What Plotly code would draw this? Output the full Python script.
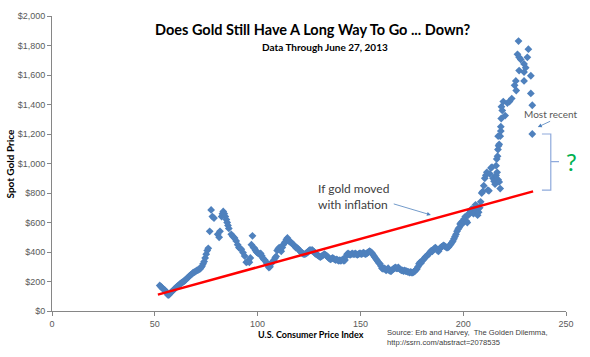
import plotly.graph_objects as go

# Gold price vs CPI
cpi = [52.4, 53.0, 53.5, 54.0, 54.5, 55.0, 55.5, 56.0, 56.5, 57.0, 57.5, 58.0, 58.5, 59.0, 59.5,
       60.0, 60.5, 61.0, 61.5, 62.0, 62.5, 63.0, 63.5, 64.0, 64.5, 65.0, 65.5, 66.0, 66.5, 67.0,
       67.5, 68.0, 68.5, 69.0, 69.5, 70.0, 70.5, 71.0, 71.5, 72.0, 72.5, 73.0, 73.5, 74.0, 74.5,
       75.0, 75.5, 76.0, 76.7, 77.4, 78.0, 78.8, 80.6, 81.3, 81.7, 82.5, 82.9, 83.3, 83.8, 84.3,
       84.8, 85.2, 85.6, 86.0, 87.2, 88.0, 88.8, 89.6, 90.3, 90.9, 91.5, 92.1, 92.9, 93.7, 94.5,
       95.0, 95.5, 96.0, 96.5, 97.0, 97.5, 98.0, 98.5, 99.0, 99.5, 100.0, 100.5, 101.0, 101.5,
       102.0, 102.5, 103.0, 103.5, 104.0, 104.5, 105.0, 105.5, 106.0, 106.5, 107.0, 107.5, 108.0,
       108.5, 109.0, 109.5, 110.0, 110.5, 111.0, 111.5, 112.0, 112.5, 113.0, 113.5, 114.0, 114.5,
       115.0, 115.5, 116.0, 116.5, 117.0, 117.5, 118.0, 118.5, 119.0, 119.5, 120.0, 120.5, 121.0,
       121.5, 122.0, 122.5, 123.0, 123.5, 124.0, 124.5, 125.0, 125.5, 126.0, 126.5, 127.0, 127.5,
       128.0, 128.5, 129.0, 129.5, 130.0, 130.5, 131.0, 131.5, 132.0, 132.5, 133.0, 133.5, 134.0,
       134.5, 135.0, 135.5, 136.0, 136.5, 137.0, 137.5, 138.0, 138.5, 139.0, 139.5, 140.0, 140.5,
       141.0, 141.5, 142.0, 142.5, 143.0, 143.5, 144.0, 144.5, 145.0, 145.5, 146.0, 146.5, 147.0,
       147.5, 148.0, 148.5, 149.0, 149.5, 150.0, 150.5, 151.0, 151.5, 152.0, 152.5, 153.0, 153.5,
       154.0, 154.5, 155.0, 155.5, 156.0, 156.5, 157.0, 157.5, 158.0, 158.5, 159.0, 159.5, 160.0,
       160.5, 161.0, 161.5, 162.0, 162.5, 163.0, 163.5, 164.0, 164.5, 165.0, 165.5, 166.0, 166.5,
       167.0, 167.5, 168.0, 168.5, 169.0, 169.5, 170.0, 170.5, 171.0, 171.5, 172.0, 172.5, 173.0,
       173.5, 174.0, 174.5, 175.0, 175.5, 176.0, 176.5, 177.0, 177.5, 178.0, 178.5, 179.0, 179.5,
       180.0, 180.5, 181.0, 181.5, 182.0, 182.5, 183.0, 183.5, 184.0, 184.5, 185.0, 185.5, 186.0,
       186.5, 187.0, 187.5, 188.0, 188.5, 189.0, 189.5, 190.0, 190.5, 191.0, 191.5, 192.0, 192.5,
       193.0, 193.5, 194.0, 194.5, 195.0, 195.5, 196.0, 196.5, 197.0, 197.5, 198.0, 198.5, 199.0,
       199.5, 200.0, 200.5, 201.0, 201.5, 202.0, 202.5, 203.0, 203.5, 204.0, 204.5, 205.0, 205.5,
       206.0, 206.5, 207.0, 207.5, 208.0, 208.5, 209.0, 209.5, 210.0, 210.5, 211.0, 211.5, 212.0,
       212.5, 213.0, 213.5, 214.0, 214.5, 215.0, 215.5, 216.0, 216.5, 217.0, 217.5, 218.0, 216.0,
       216.3, 216.7, 216.9, 217.2, 217.5, 217.0, 218.0, 218.3, 218.3, 218.5, 219.0, 218.6, 219.5,
       220.4, 221.5, 222.5, 223.6, 225.0, 225.6, 225.8, 226.4, 227.2, 226.9, 228.0, 227.2, 229.6,
       229.6, 229.6, 230.4, 231.2, 231.7, 232.9, 232.9, 233.6, 233.6]
gold = [173, 165, 158, 150, 145, 140, 128, 118, 107, 112, 120, 128, 135, 140, 148,
        155, 162, 168, 172, 180, 185, 192, 195, 200, 205, 212, 220, 225, 232, 240,
        245, 250, 258, 262, 265, 270, 275, 278, 282, 285, 295, 305, 320, 335, 360,
        385, 410, 425, 540, 685, 640, 630, 520, 500, 540, 640, 660, 675, 660, 640,
        620, 600, 580, 560, 520, 505, 495, 475, 450, 430, 425, 418, 396, 373, 330,
        335, 340, 330, 360, 450, 510, 430, 425, 410, 400, 395, 390, 385, 390,
        375, 360, 350, 345, 335, 320, 310, 295, 300, 320, 330, 335, 345,
        360, 370, 410, 420, 430, 415, 405, 430, 450, 460, 470, 485, 495,
        480, 470, 470, 460, 455, 450, 440, 430, 430, 425, 415, 410, 400,
        395, 390, 385, 385, 390, 395, 400, 410, 415, 410, 415, 405, 400,
        390, 385, 380, 375, 370, 365, 370, 375, 380, 385, 380, 375, 370,
        360, 355, 350, 355, 360, 355, 350, 345, 350, 345, 340, 345, 340,
        345, 350, 340, 345, 370, 385, 390, 385, 380, 385, 390, 385, 385,
        390, 385, 380, 385, 390, 390, 385, 390, 395, 390, 385, 390, 395,
        400, 405, 400, 395, 385, 375, 365, 355, 345, 335, 325, 320, 305,
        290, 285, 290, 285, 275, 280, 290, 275, 270, 270, 280, 285, 290,
        295, 290, 290, 295, 285, 280, 275, 275, 270, 275, 270, 270, 265,
        265, 260, 265, 260, 260, 265, 270, 280, 285, 300, 320, 330, 325,
        340, 345, 355, 365, 370, 375, 385, 390, 400, 410, 405, 415, 425,
        430, 420, 410, 405, 420, 430, 435, 440, 445, 440, 435, 430, 430,
        435, 445, 455, 465, 475, 490, 505, 520, 540, 555, 565, 590, 600,
        590, 610, 625, 640, 610, 600, 650, 665, 680, 690, 670, 660, 700,
        720, 680, 650, 670, 700, 740, 800, 810, 850, 900, 920, 940, 820,
        815, 930, 970, 975, 900, 880, 860, 920, 940, 890, 875, 830, 985,
        1030, 1050, 1095, 1120, 1130, 1185, 1185, 1220, 1250, 1305, 1360, 1385, 1420,
        1325, 1410, 1420, 1440, 1530, 1560, 1495, 1740, 1720, 1830, 1705, 1630, 1675,
        1620, 1560, 1650, 1720, 1775, 1595, 1475, 1395, 1200]

# "If gold moved with inflation" line endpoints
infl_cpi = [51.5, 234.0]
infl_gold = [111, 811]

x_ticks = [0, 50, 100, 150, 200, 250]
y_ticks = [0, 200, 400, 600, 800, 1000, 1200, 1400, 1600, 1800, 2000]
y_tick_labels = ["$0", "$200", "$400", "$600", "$800", "$1,000", "$1,200", "$1,400",
                 "$1,600", "$1,800", "$2,000"]

fig = go.Figure()
fig.add_trace(go.Scatter(x=cpi, y=gold, mode="markers",
                         marker=dict(symbol="diamond", size=6, color="#4f81bd", line=dict(width=0)),
                         showlegend=False, cliponaxis=False))
fig.add_trace(go.Scatter(x=infl_cpi, y=infl_gold, mode="lines",
                         line=dict(color="#ff0000", width=2.5), showlegend=False))

tick_font = dict(family="Liberation Sans", size=9, color="#595959")
fig.update_xaxes(range=[0, 250], tickvals=x_ticks, showgrid=False, zeroline=False,
                 showline=True, linecolor="#868686", linewidth=1,
                 ticks="outside", ticklen=4, tickcolor="#868686", tickfont=tick_font)
fig.update_yaxes(range=[0, 2000], tickvals=y_ticks, ticktext=y_tick_labels,
                 showgrid=False, zeroline=False,
                 showline=True, linecolor="#868686", linewidth=1,
                 ticks="outside", ticklen=4, tickcolor="#868686", tickfont=tick_font)

# plot area in window pixels: x 52..566, y 11..311
def px(xp):
    return (xp - 52) / 514

def py(yp):
    return (311 - yp) / 300

def note(text, xp, yp, size, color="#000000", family="Lato", **kw):
    d = dict(text=text, xref="paper", yref="paper", x=px(xp), y=py(yp),
             xanchor="center", yanchor="middle", showarrow=False,
             font=dict(family=family, size=size, color=color))
    d.update(kw)
    return d

ann = []
ann.append(note("<b>Does Gold Still Have A Long Way To Go ... Down?</b>", 312, 25, 14.5))
ann.append(note("<b>Data Through June 27, 2013</b>", 325, 43, 10))
ann.append(note("<b>Spot Gold Price</b>", 9, 161, 10, textangle=-90))
ann.append(note("<b>U.S. Consumer Price Index</b>", 311, 335, 9))
ann.append(note("Source: Erb and Harvey,  The Golden Dilemma,<br>http://ssrn.com/abstract=2078535",
                385, 337.5, 7.6, color="#404040", family="Liberation Sans",
                xanchor="left", align="left"))
ann.append(note("?", 571, 159, 24, color="#00b050"))
ann.append(dict(text="If gold moved<br>with inflation", x=146.6, y=773, xref="x", yref="y",
                showarrow=False, align="left",
                font=dict(family="Lato", size=12, color="#404040")))
ann.append(dict(text="", x=184.3, y=651, ax=165.5, ay=729, xref="x", yref="y", axref="x", ayref="y",
                showarrow=True, arrowhead=2, arrowsize=1, arrowwidth=0.8, arrowcolor="#4f81bd"))
ann.append(dict(text="Most recent", x=242.6, y=1335, xref="x", yref="y", showarrow=False,
                font=dict(family="Lato", size=10, color="#595959")))
ann.append(dict(text="", x=236.3, y=1247, ax=243, ay=1291, xref="x", yref="y", axref="x", ayref="y",
                showarrow=True, arrowhead=2, arrowsize=1, arrowwidth=0.8, arrowcolor="#4f81bd"))
fig.update_layout(annotations=ann)

# Right brace
fig.add_shape(type="path", xref="x", yref="y",
              path="M 238.3 1200 L 242.6 1200 L 242.6 1013 L 246.6 1013 M 242.6 1013 L 242.6 820 L 238.3 820",
              line=dict(color="#8faadc", width=1.2))

fig.update_layout(width=590, height=357, margin=dict(l=52, r=24, t=11, b=46),
                  plot_bgcolor="white", paper_bgcolor="white")

# remove the default page margin so the figure sits at the window's top-left corner
fig.write_html("out.html", config={"displayModeBar": False},
               post_script="document.body.style.margin='0';")
